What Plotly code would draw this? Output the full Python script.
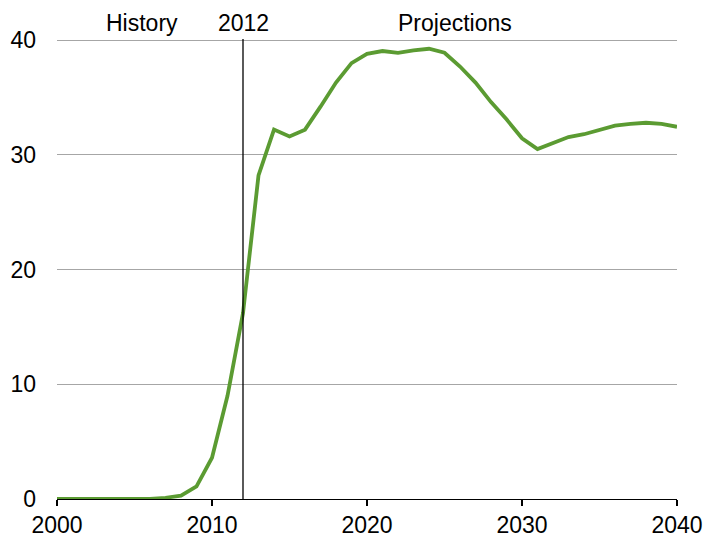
import plotly.graph_objects as go

years = list(range(2000, 2041))
values = [0, 0, 0, 0, 0, 0, 0, 0.1, 0.3, 1.1, 3.6, 9.0, 16.2, 28.2, 32.2, 31.6, 32.2,
          34.2, 36.3, 38.0, 38.8, 39.05, 38.9, 39.1, 39.25, 38.9, 37.7, 36.3, 34.6,
          33.1, 31.45, 30.5, 31.0, 31.55, 31.8, 32.2, 32.55, 32.7, 32.8, 32.7, 32.45]

x_ticks = [2000, 2010, 2020, 2030, 2040]
y_ticks = [0, 10, 20, 30, 40]
split_year = 2012
labels = [("History", 2005.5), ("2012", 2012), ("Projections", 2025.7)]

FONT = "Liberation Sans, Arial, sans-serif"

fig = go.Figure()
fig.add_trace(go.Scatter(x=years, y=values, mode="lines",
                         line=dict(color="#5b9b32", width=3.8),
                         showlegend=False, hoverinfo="skip"))

fig.add_shape(type="line", xref="x", yref="y", x0=split_year, x1=split_year,
              y0=0, y1=40.2, line=dict(color="black", width=1.3), layer="above")

for text, xpos in labels:
    fig.add_annotation(x=xpos, xref="x", y=1, yref="paper", yanchor="bottom",
                       text=text, showarrow=False, yshift=1,
                       font=dict(family=FONT, size=23, color="black"))

fig.update_layout(
    width=706, height=537,
    margin=dict(l=57, r=29, t=39, b=38, autoexpand=False),
    plot_bgcolor="white", paper_bgcolor="white",
    font=dict(family=FONT, size=23, color="black"),
    xaxis=dict(range=[2000, 2040], tickvals=x_ticks, showgrid=False,
               showline=True, linecolor="black", linewidth=1.3,
               ticks="outside", ticklen=6, tickcolor="black", tickwidth=1.3,
               ticklabelstandoff=-1,
               zeroline=False, fixedrange=True, automargin=False),
    yaxis=dict(range=[0, 40.1], tickvals=y_ticks, showgrid=True,
               gridcolor="#a6a6a6", gridwidth=1, showline=False,
               zeroline=False, ticks="", ticklabelstandoff=20, fixedrange=True,
               automargin=False),
)

fig.write_html(
    "out.html",
    config={"displayModeBar": False, "staticPlot": True},
    post_script="document.body.style.margin='0';document.body.style.overflow='hidden';",
)
